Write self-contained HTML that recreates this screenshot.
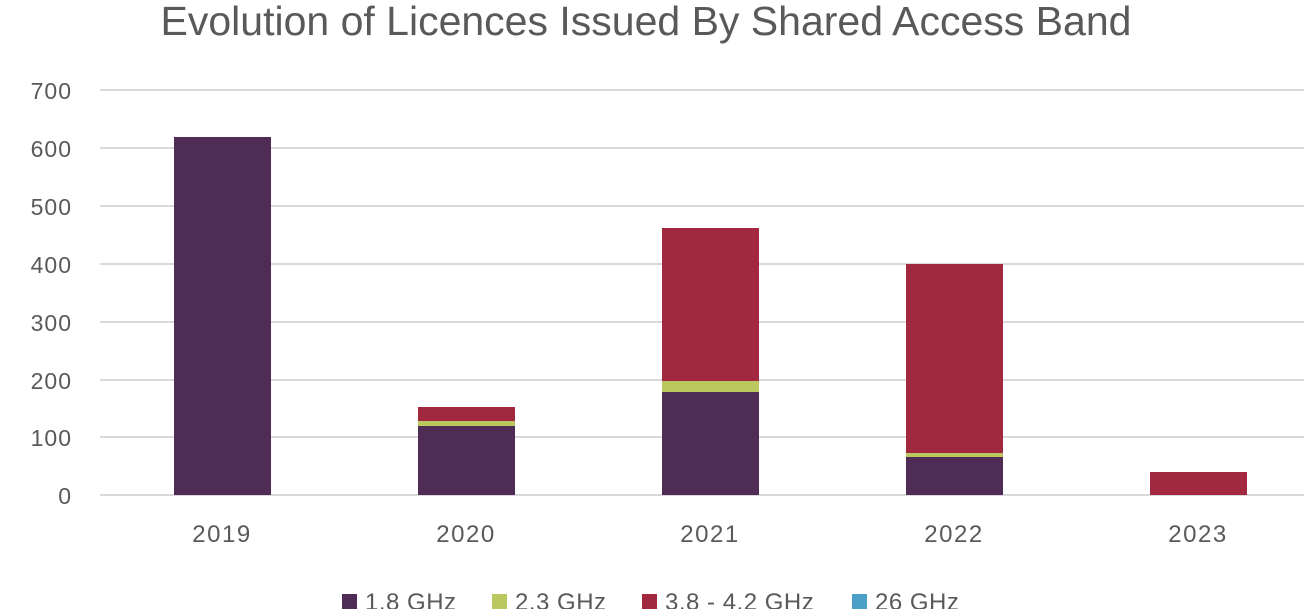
<!DOCTYPE html>
<html><head><meta charset="utf-8"><style>
body{margin:0;background:#fff;}
svg text{font-family:"Liberation Sans",sans-serif;fill:#595959;}
</style></head><body>
<svg width="1304" height="609" xmlns="http://www.w3.org/2000/svg">
<text x="646" y="35" font-size="41" text-anchor="middle" fill="#666">Evolution of Licences Issued By Shared Access Band</text>
<g stroke="#d9d9d9" stroke-width="2">
<line x1="100" x2="1304" y1="90" y2="90"/><line x1="100" x2="1304" y1="148" y2="148"/>
<line x1="100" x2="1304" y1="206" y2="206"/><line x1="100" x2="1304" y1="264" y2="264"/>
<line x1="100" x2="1304" y1="322" y2="322"/><line x1="100" x2="1304" y1="380" y2="380"/>
<line x1="100" x2="1304" y1="437" y2="437"/><line x1="100" x2="1304" y1="495" y2="495"/>
</g>
<g font-size="23" text-anchor="end" letter-spacing="1">
<text x="72" y="99">700</text><text x="72" y="157">600</text><text x="72" y="215">500</text>
<text x="72" y="273">400</text><text x="72" y="331">300</text><text x="72" y="389">200</text>
<text x="72" y="446">100</text><text x="72" y="504">0</text>
</g>
<rect x="174" y="137" width="97" height="358" fill="#4e2c55"/>
<rect x="418" y="426" width="97" height="69" fill="#4e2c55"/>
<rect x="418" y="421" width="97" height="5" fill="#bbc75f"/>
<rect x="418" y="407" width="97" height="14" fill="#a1283f"/>
<rect x="662" y="392" width="97" height="103" fill="#4e2c55"/>
<rect x="662" y="381" width="97" height="11" fill="#bbc75f"/>
<rect x="662" y="228" width="97" height="153" fill="#a1283f"/>
<rect x="906" y="457" width="97" height="38" fill="#4e2c55"/>
<rect x="906" y="453" width="97" height="4" fill="#bbc75f"/>
<rect x="906" y="264" width="97" height="189" fill="#a1283f"/>
<rect x="1150" y="472" width="97" height="23" fill="#a1283f"/>
<g font-size="24" text-anchor="middle" letter-spacing="1.5">
<text x="222" y="542">2019</text><text x="466" y="542">2020</text><text x="710" y="542">2021</text>
<text x="954" y="542">2022</text><text x="1198" y="542">2023</text>
</g>
<g font-size="24" letter-spacing="0.5">
<rect x="342" y="594" width="15" height="15" fill="#4e2c55"/><text x="365" y="610">1.8 GHz</text>
<rect x="492" y="594" width="15" height="15" fill="#bbc75f"/><text x="515" y="610">2.3 GHz</text>
<rect x="642" y="594" width="15" height="15" fill="#a1283f"/><text x="665" y="610">3.8 - 4.2 GHz</text>
<rect x="852" y="594" width="15" height="15" fill="#4ba0c8"/><text x="875" y="610">26 GHz</text>
</g>
</svg>
</body></html>
